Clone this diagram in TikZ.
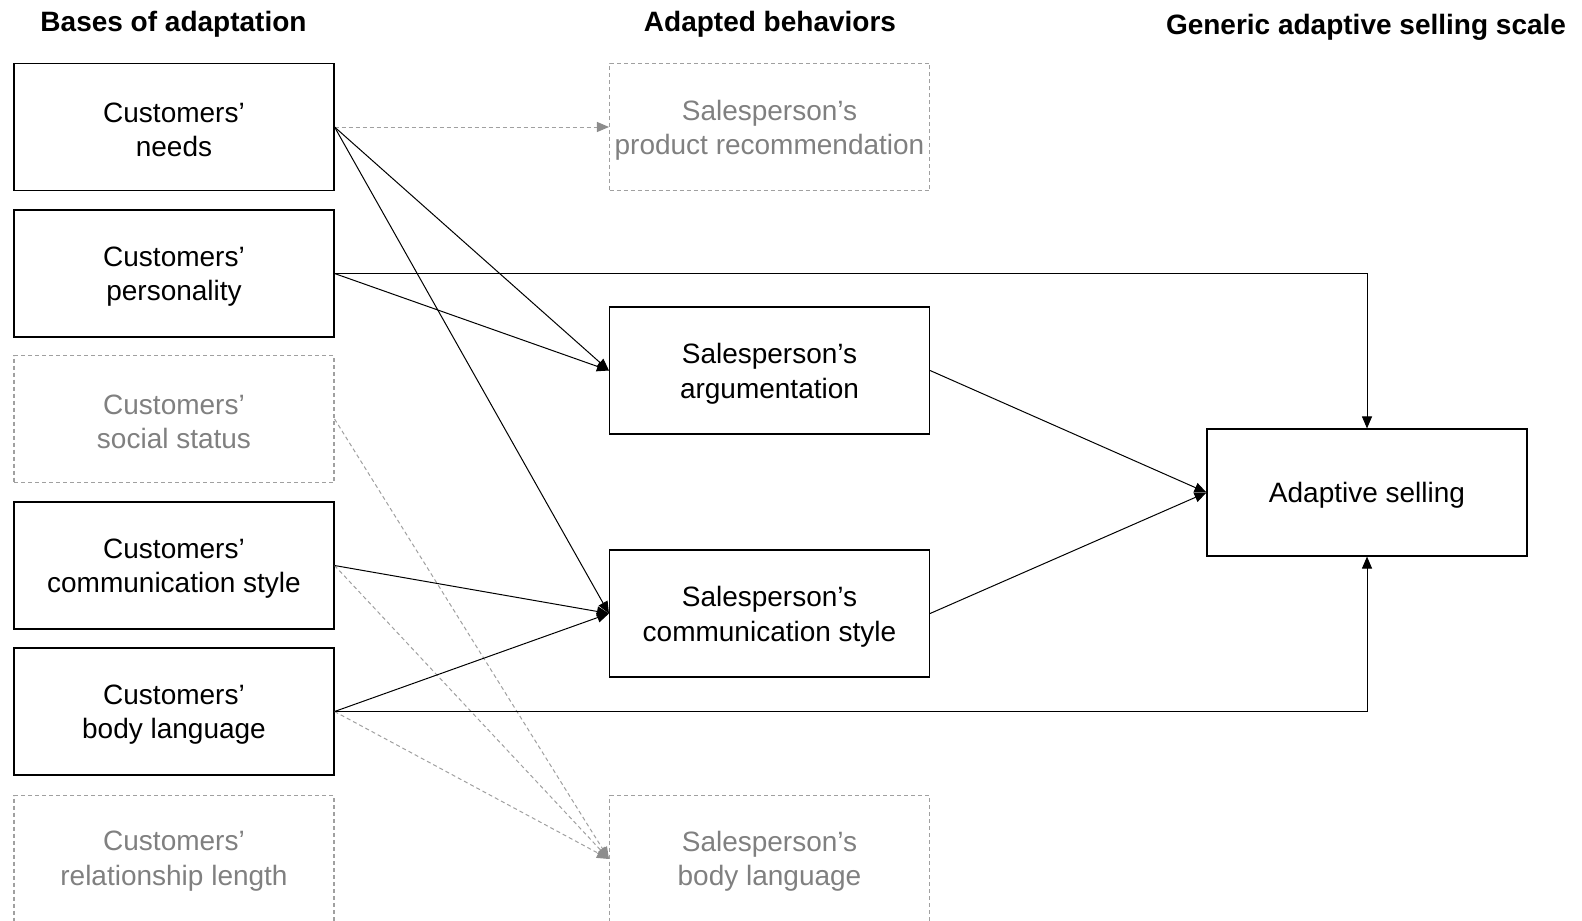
\documentclass[tikz,border=0pt]{standalone}
\usepackage{fontspec}
\setmainfont{Liberation Sans}
\usetikzlibrary{arrows.meta}
\definecolor{ghosttext}{RGB}{128,128,128}
\definecolor{ghostline}{RGB}{160,160,160}
\definecolor{ghostarrow}{RGB}{140,140,140}
\begin{document}
\begin{tikzpicture}[x=0.5pt,y=-0.5pt,
  box/.style={draw=black,line width=0.55pt,minimum width=160pt,minimum height=63.5pt,inner sep=0pt},
  ghostbox/.style={box,draw=ghostline,dash pattern=on 2pt off 1.5pt},
  btext/.style={inner sep=0pt,align=center,yshift=-1.6pt,font=\fontsize{14}{17.15}\selectfont},
  gtext/.style={btext,text=ghosttext},
  head/.style={inner sep=0pt,font=\fontsize{14}{17}\selectfont\bfseries},
  conn/.style={line width=0.5pt,-{Triangle[length=6pt,width=5pt]}},
  ghostconn/.style={line width=0.5pt,draw=ghostline,dash pattern=on 2pt off 1.5pt,-{Triangle[length=6pt,width=5pt,color=ghostarrow,fill=ghostarrow]}}
]
\useasboundingbox (0,0) rectangle (1582,920);
% headers
\node[head] (h1) at (173.5,24) {Bases of adaptation};
\node[head] (h2) at (770,24) {Adapted behaviors};
\node[head] (h3) at (1366,27) {Generic adaptive selling scale};
% left column
\node[box,label={[btext]center:Customers’\\needs}] (needs) at (174,127) {};
\node[box,label={[btext]center:Customers’\\personality}] (pers) at (174,273.5) {};
\node[ghostbox,label={[gtext]center:Customers’\\social status}] (status) at (174,419) {};
\node[box,label={[btext]center:Customers’\\communication style}] (comm) at (174,565.5) {};
\node[box,label={[btext]center:Customers’\\body language}] (body) at (174,711.5) {};
\node[ghostbox,label={[gtext,yshift=0.6pt]center:Customers’\\relationship length}] (rel) at (174,859) {};
% middle column
\node[ghostbox,label={[gtext]center:Salesperson’s\\product recommendation}] (prod) at (769.5,127) {};
\node[box,label={[btext]center:Salesperson’s\\argumentation}] (arg) at (769.5,370.5) {};
\node[box,label={[btext]center:Salesperson’s\\communication style}] (scomm) at (769.5,613.5) {};
\node[ghostbox,label={[gtext,yshift=0.6pt]center:Salesperson’s\\body language}] (sbody) at (769.5,859) {};
% right
\node[box,label={[btext]center:Adaptive selling}] (adapt) at (1367,492.5) {};
% connectors
\draw[ghostconn] (needs.east) -- (prod.west);
\draw[ghostconn] (status.east) -- (sbody.west);
\draw[ghostconn] (comm.east) -- (sbody.west);
\draw[ghostconn] (body.east) -- (sbody.west);
\draw[conn] (needs.east) -- (arg.west);
\draw[conn] (needs.east) -- (scomm.west);
\draw[conn] (pers.east) -- (arg.west);
\draw[conn] (pers.east) -| (adapt.north);
\draw[conn] (comm.east) -- (scomm.west);
\draw[conn] (body.east) -- (scomm.west);
\draw[conn] (body.east) -| (adapt.south);
\draw[conn] (arg.east) -- (adapt.west);
\draw[conn] (scomm.east) -- (adapt.west);
\end{tikzpicture}
\end{document}
